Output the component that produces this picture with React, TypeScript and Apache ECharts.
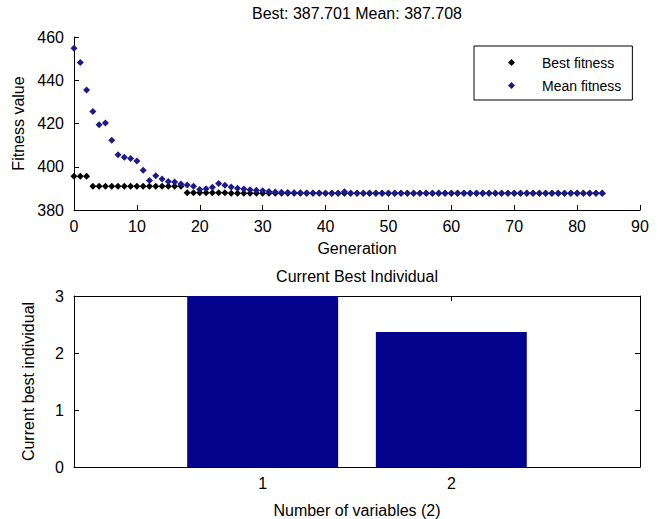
import React, { useEffect, useRef } from "react";
import * as echarts from "echarts";

// ---- data ----
const bestFitness: number[] = [
  395.6, 395.6, 395.6,
  391.0, 391.0, 391.0, 391.0, 391.0, 391.0, 391.0, 391.0, 391.0, 391.0, 391.0, 391.0, 391.0, 391.0, 391.0,
  388.0, 388.0, 388.0, 388.0, 388.0, 388.0, 388.0,
  387.8, 387.8, 387.8, 387.8, 387.8, 387.8, 387.8, 387.8, 387.8, 387.8, 387.8, 387.8, 387.8, 387.8, 387.8, 387.8,
  387.701, 387.701, 387.701, 387.701, 387.701, 387.701, 387.701, 387.701, 387.701, 387.701, 387.701,
  387.701, 387.701, 387.701, 387.701, 387.701, 387.701, 387.701, 387.701, 387.701, 387.701, 387.701,
  387.701, 387.701, 387.701, 387.701, 387.701, 387.701, 387.701, 387.701, 387.701, 387.701, 387.701,
  387.701, 387.701, 387.701, 387.701, 387.701, 387.701, 387.701, 387.701, 387.701, 387.701, 387.701,
];
const meanFitness: number[] = [
  454.8, 448.2, 435.5, 425.5, 419.4, 420.2, 412.2, 405.6, 404.4, 403.8,
  402.7, 398.4, 393.6, 395.8, 394.3, 393.2, 392.9, 392.0, 391.6, 391.0,
  389.5, 389.8, 390.5, 392.3, 391.4, 390.6, 390.1, 389.7, 389.4, 389.1,
  388.9, 388.6, 388.3, 388.2, 388.1, 388.0, 388.0, 387.9, 387.9, 387.9,
  387.8, 387.8, 387.8, 388.4, 387.8, 387.8, 387.8, 387.8, 387.8, 387.8,
  387.78, 387.78, 387.78, 387.78, 387.78, 387.78, 387.78, 387.78, 387.78, 387.78,
  387.75, 387.75, 387.75, 387.75, 387.75, 387.75, 387.75, 387.75, 387.75, 387.75,
  387.72, 387.72, 387.72, 387.72, 387.72, 387.72, 387.72, 387.72, 387.72, 387.72,
  387.71, 387.71, 387.71, 387.71, 387.708,
];
const variableIndex: number[] = [1, 2];
const bestIndividual: number[] = [3.0, 2.37];
const bottomXTicks: number[] = [1, 2];

const FONT = "'Liberation Sans', Arial, sans-serif";

export default function App() {
  const ref = useRef<HTMLDivElement>(null);
  useEffect(() => {
    if (!ref.current) return;
    const chart = echarts.init(ref.current, undefined, { renderer: "svg" });
    const topGrid = { left: 74, top: 37, width: 566, height: 173 };
    const botGrid = { left: 74, top: 296, width: 566, height: 171 };
    const botXMin = 0;
    const botXMax = 3;
    const barW = (0.8 * botGrid.width) / (botXMax - botXMin);
    const axisLine = { show: true, onZero: false, lineStyle: { color: "#000", width: 1 } };
    const tick = { show: true, inside: true, length: 5, lineStyle: { color: "#000" } };
    const lbl = { color: "#000", fontSize: 16, fontFamily: FONT };
    const nameStyle = { color: "#000", fontSize: 16, fontFamily: FONT };

    chart.setOption({
      animation: false,
      backgroundColor: "#fff",
      textStyle: { fontFamily: FONT },
      title: [
        {
          text: "Best: 387.701 Mean: 387.708",
          left: 357,
          top: 5,
          padding: 0,
          textAlign: "center",
          textStyle: { color: "#000", fontSize: 16, fontWeight: "normal", fontFamily: FONT },
        },
        {
          text: "Current Best Individual",
          left: 357,
          top: 268,
          padding: 0,
          textAlign: "center",
          textStyle: { color: "#000", fontSize: 16, fontWeight: "normal", fontFamily: FONT },
        },
      ],
      legend: {
        data: ["Best fitness", "Mean fitness"],
        orient: "vertical",
        left: 474,
        top: 46,
        padding: [9, 11, 7, 34],
        itemGap: 8,
        itemWidth: 7,
        itemHeight: 7,
        borderColor: "#000",
        borderWidth: 1,
        backgroundColor: "#fff",
        textStyle: { color: "#000", fontSize: 14, fontFamily: FONT, lineHeight: 15, padding: [0, 0, 0, 22] },
      },
      grid: [
        { ...topGrid, containLabel: false },
        { ...botGrid, containLabel: false },
      ],
      xAxis: [
        {
          gridIndex: 0,
          type: "value",
          min: 0,
          max: 90,
          interval: 10,
          axisLine,
          axisTick: tick,
          axisLabel: { ...lbl, margin: 8 },
          splitLine: { show: false },
          name: "Generation",
          nameLocation: "middle",
          nameGap: 30,
          nameTextStyle: nameStyle,
        },
        {
          gridIndex: 1,
          type: "value",
          position: "bottom",
          min: botXMin,
          max: botXMax,
          interval: 1,
          axisLine,
          axisTick: { ...tick, customValues: bottomXTicks },
          axisLabel: { ...lbl, margin: 8, customValues: bottomXTicks },
          splitLine: { show: false },
          name: "Number of variables (2)",
          nameLocation: "middle",
          nameGap: 35,
          nameTextStyle: nameStyle,
        },
        {
          gridIndex: 1,
          type: "value",
          position: "top",
          min: botXMin,
          max: botXMax,
          interval: 1,
          axisLine,
          axisTick: { ...tick, customValues: bottomXTicks },
          axisLabel: { show: false },
          splitLine: { show: false },
        },
      ],
      yAxis: [
        {
          gridIndex: 0,
          type: "value",
          min: 380,
          max: 460,
          interval: 20,
          axisLine,
          axisTick: tick,
          axisLabel: { ...lbl, margin: 10 },
          splitLine: { show: false },
          name: "Fitness value",
          nameLocation: "middle",
          nameGap: 38,
          nameTextStyle: nameStyle,
        },
        {
          gridIndex: 1,
          type: "value",
          position: "left",
          min: 0,
          max: 3,
          interval: 1,
          axisLine,
          axisTick: tick,
          axisLabel: { ...lbl, margin: 10 },
          splitLine: { show: false },
          name: "Current best individual",
          nameLocation: "middle",
          nameGap: 38,
          nameTextStyle: nameStyle,
        },
        {
          gridIndex: 1,
          type: "value",
          position: "right",
          min: 0,
          max: 3,
          interval: 1,
          axisLine,
          axisTick: tick,
          axisLabel: { show: false },
          splitLine: { show: false },
        },
      ],
      series: [
        {
          name: "Best fitness",
          type: "scatter",
          xAxisIndex: 0,
          yAxisIndex: 0,
          symbol: "diamond",
          symbolSize: 7,
          itemStyle: { color: "#000000", opacity: 1 },
          data: bestFitness.map((v, i) => [i, v]),
        },
        {
          name: "Mean fitness",
          type: "scatter",
          xAxisIndex: 0,
          yAxisIndex: 0,
          symbol: "diamond",
          symbolSize: 7,
          itemStyle: { color: "#1a1a8e", opacity: 1 },
          data: meanFitness.map((v, i) => [i, v]),
        },
        {
          name: "Current best individual",
          type: "bar",
          xAxisIndex: 1,
          yAxisIndex: 1,
          barWidth: barW,
          itemStyle: { color: "#03038e" },
          data: variableIndex.map((x, i) => [x, bestIndividual[i]]),
        },
      ],
    });
    return () => chart.dispose();
  }, []);
  return (
    <div
      ref={ref}
      style={{ position: "fixed", left: 0, top: 0, width: 661, height: 519, background: "#fff" }}
    />
  );
}
